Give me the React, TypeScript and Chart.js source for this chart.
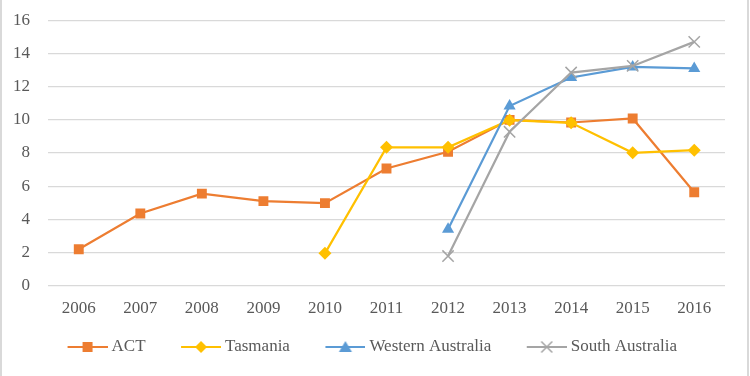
import React, { useEffect, useRef } from 'react';
import { Chart, registerables } from 'chart.js';

Chart.register(...registerables);

const years = ['2006', '2007', '2008', '2009', '2010', '2011', '2012', '2013', '2014', '2015', '2016'];
const act = [2.2, 4.35, 5.55, 5.1, 4.98, 7.07, 8.07, 10.0, 9.84, 10.08, 5.63];
const tasmania = [null, null, null, null, 1.95, 8.34, 8.34, 9.98, 9.82, 8.01, 8.17];
const westernAustralia = [null, null, null, null, null, null, 3.4, 10.83, 12.55, 13.19, 13.1];
const southAustralia = [null, null, null, null, null, null, 1.79, 9.28, 12.85, 13.25, 14.7];
const seriesNames = ['ACT', 'Tasmania', 'Western Australia', 'South Australia'];
const seriesColors = ['#ED7D31', '#FFC000', '#5B9BD5', '#A5A5A5'];
const yTicks = [0, 2, 4, 6, 8, 10, 12, 14, 16];

const FONT = "'Liberation Serif', 'Times New Roman', serif";
const TEXT = '#595959';

function makeGlyph(color: string, kind: string): HTMLCanvasElement {
  const c = document.createElement('canvas');
  c.width = 64;
  c.height = 16;
  const ctx = c.getContext('2d')!;
  ctx.strokeStyle = color;
  ctx.fillStyle = color;
  ctx.lineWidth = 2;
  ctx.beginPath();
  ctx.moveTo(24, 8);
  ctx.lineTo(64, 8);
  ctx.stroke();
  const cx = 44, cy = 8;
  ctx.beginPath();
  if (kind === 'rect') {
    ctx.fillRect(cx - 5, cy - 5, 10, 10);
  } else if (kind === 'rectRot') {
    ctx.moveTo(cx, cy - 6);
    ctx.lineTo(cx + 6, cy);
    ctx.lineTo(cx, cy + 6);
    ctx.lineTo(cx - 6, cy);
    ctx.closePath();
    ctx.fill();
  } else if (kind === 'triangle') {
    ctx.moveTo(cx, cy - 6);
    ctx.lineTo(cx + 6.5, cy + 5);
    ctx.lineTo(cx - 6.5, cy + 5);
    ctx.closePath();
    ctx.fill();
  } else {
    ctx.lineWidth = 1.5;
    ctx.moveTo(cx - 5.5, cy - 5.5);
    ctx.lineTo(cx + 5.5, cy + 5.5);
    ctx.moveTo(cx + 5.5, cy - 5.5);
    ctx.lineTo(cx - 5.5, cy + 5.5);
    ctx.stroke();
  }
  return c;
}

export default function App() {
  const ref = useRef<HTMLCanvasElement | null>(null);

  useEffect(() => {
    if (!ref.current) return;
    const styles = ['rect', 'rectRot', 'triangle', 'crossRot'];
    const glyphs = styles.map((s, i) => makeGlyph(seriesColors[i], s));
    const values = [act, tasmania, westernAustralia, southAustralia];
    const radii = [7, 6.5, 7, 8];
    const orders = [4, 3, 2, 1];

    const chart = new Chart(ref.current, {
      type: 'line',
      data: {
        labels: years,
        datasets: values.map((v, i) => ({
          label: seriesNames[i],
          data: v,
          xAxisID: 'x',
          yAxisID: 'y',
          borderColor: seriesColors[i],
          backgroundColor: seriesColors[i],
          pointBackgroundColor: seriesColors[i],
          pointBorderColor: seriesColors[i],
          pointStyle: styles[i] as any,
          pointRadius: radii[i],
          pointBorderWidth: i === 3 ? 1.5 : 0,
          borderWidth: 2.2,
          tension: 0,
          order: orders[i],
          spanGaps: false,
        })),
      },
      options: {
        responsive: false,
        animation: false,
        layout: { padding: { top: 20.3, right: 25, bottom: 10.5, left: 0 } },
        scales: {
          x: {
            offset: true,
            grid: { display: false, drawTicks: false },
            border: { display: false },
            ticks: {
              color: TEXT,
              font: { family: FONT, size: 17 },
              padding: 13,
              maxRotation: 0,
              autoSkip: false,
            },
            afterFit: (s: any) => { s.height = 36.8; },
          },
          y: {
            min: 0,
            max: 16,
            weight: 1,
            afterBuildTicks: (s: any) => { s.ticks = yTicks.map((v) => ({ value: v })); },
            grid: { color: '#D9D9D9', lineWidth: 1.3, drawTicks: false },
            border: { display: false },
            ticks: {
              color: TEXT,
              font: { family: FONT, size: 17 },
              padding: 0,
            },
            afterFit: (s: any) => { s.width = 30; },
          },
          yspacer: {
            type: 'linear',
            position: 'left',
            weight: 0,
            grid: { display: false, drawTicks: false },
            border: { display: false },
            ticks: { display: false },
            afterFit: (s: any) => { s.width = 18; },
          },
        },
        plugins: {
          tooltip: { enabled: false },
          legend: {
            position: 'bottom',
            labels: {
              color: TEXT,
              font: { family: FONT, size: 17 },
              usePointStyle: true,
              pointStyleWidth: 55,
              boxHeight: 12,
              padding: 16,
              generateLabels: () =>
                seriesNames.map((name, i) => ({
                  text: name,
                  fillStyle: seriesColors[i],
                  strokeStyle: seriesColors[i],
                  fontColor: TEXT,
                  lineWidth: 0,
                  pointStyle: glyphs[i] as any,
                  hidden: false,
                  datasetIndex: i,
                })),
            },
          },
        },
      },
    });
    return () => chart.destroy();
  }, []);

  return (
    <div style={{ position: 'absolute', left: 0, top: 0, width: 750, height: 376, background: '#fff' }}>
      <canvas ref={ref} width={750} height={376} style={{ display: 'block' }} />
      <div style={{ position: 'absolute', left: 0, top: 0, width: 2, height: 376, background: '#D9D9D9' }} />
      <div style={{ position: 'absolute', left: 747, top: 0, width: 2, height: 376, background: '#D9D9D9' }} />
    </div>
  );
}
